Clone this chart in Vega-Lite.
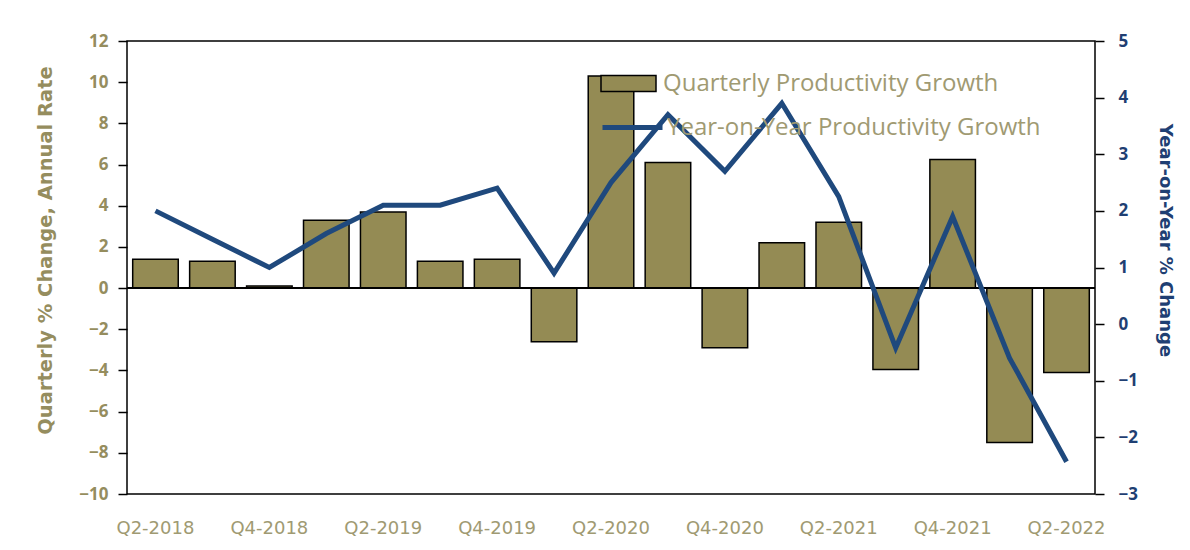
{
  "$schema": "https://vega.github.io/schema/vega-lite/v6.json",
  "width": 968,
  "height": 453,
  "autosize": {"type": "none"},
  "padding": {"left": 127, "top": 41, "right": 95, "bottom": 56},
  "background": "white",
  "config": {
    "font": "Open Sans",
    "view": {"stroke": "black", "strokeWidth": 1.5},
    "axis": {"grid": false}
  },
  "data": {
    "values": [
      {"q": "Q2-2018", "prod": 1.4, "yoy": 2.0},
      {"q": "Q3-2018", "prod": 1.3, "yoy": 1.5},
      {"q": "Q4-2018", "prod": 0.1, "yoy": 1.0},
      {"q": "Q1-2019", "prod": 3.3, "yoy": 1.6},
      {"q": "Q2-2019", "prod": 3.7, "yoy": 2.1},
      {"q": "Q3-2019", "prod": 1.3, "yoy": 2.1},
      {"q": "Q4-2019", "prod": 1.4, "yoy": 2.4},
      {"q": "Q1-2020", "prod": -2.6, "yoy": 0.9},
      {"q": "Q2-2020", "prod": 10.3, "yoy": 2.5},
      {"q": "Q3-2020", "prod": 6.1, "yoy": 3.7},
      {"q": "Q4-2020", "prod": -2.9, "yoy": 2.7},
      {"q": "Q1-2021", "prod": 2.2, "yoy": 3.9},
      {"q": "Q2-2021", "prod": 3.2, "yoy": 2.25},
      {"q": "Q3-2021", "prod": -3.95, "yoy": -0.42},
      {"q": "Q4-2021", "prod": 6.25, "yoy": 1.9},
      {"q": "Q1-2022", "prod": -7.5, "yoy": -0.6},
      {"q": "Q2-2022", "prod": -4.1, "yoy": -2.43}
    ]
  },
  "encoding": {
    "x": {
      "field": "q",
      "type": "nominal",
      "sort": null,
      "scale": {"paddingInner": 0.2, "paddingOuter": 0.1},
      "axis": {
        "title": null,
        "labelAngle": 0,
        "domain": false,
        "ticks": false,
        "labelPadding": 25,
        "labelFont": "DejaVu Sans",
        "labelFontSize": 18,
        "labelColor": "#a09a72",
        "labelExpr": "(indexof(datum.label,'Q2')==0 || indexof(datum.label,'Q4')==0) ? datum.label : ''"
      }
    }
  },
  "layer": [
    {
      "layer": [
        {
          "mark": {"type": "bar", "stroke": "black", "strokeWidth": 1.5},
          "encoding": {
            "y": {
              "field": "prod",
              "type": "quantitative",
              "scale": {"domain": [-10, 12], "nice": false},
              "axis": {
                "title": "Quarterly % Change, Annual Rate",
                "values": [-10, -8, -6, -4, -2, 0, 2, 4, 6, 8, 10, 12],
                "domain": false,
                "tickColor": "black",
                "tickWidth": 1.5,
                "tickSize": 9,
                "labelPadding": 10,
                "labelFontSize": 17,
                "labelFontWeight": "bold",
                "labelColor": "#958d5e",
                "titleFont": "DejaVu Sans",
                "titleFontSize": 19.5,
                "titleFontWeight": "bold",
                "titleColor": "#958d5e",
                "titlePadding": 23,
                "titleY": 209
              }
            },
            "fill": {
              "datum": "Quarterly Productivity Growth",
              "type": "nominal",
              "scale": {"range": ["#948b54"]},
              "legend": {
                "title": null,
                "orient": "none",
                "legendX": 473,
                "legendY": 14,
                "padding": 0,
                "symbolType": "M-1,-0.29H1V0.29H-1Z",
                "symbolSize": 3025,
                "symbolStrokeColor": "black",
                "symbolStrokeWidth": 1.5,
                "symbolOpacity": 1,
                "labelFontSize": 24,
                "labelColor": "#a09a72",
                "labelOffset": 6,
                "labelLimit": 600
              }
            }
          }
        },
        {
          "mark": {"type": "rule", "color": "black", "strokeWidth": 1.5},
          "encoding": {"y": {"datum": 0}, "x": {"value": 0}, "x2": {"value": 968}}
        }
      ]
    },
    {
      "mark": {"type": "line", "strokeWidth": 5},
      "encoding": {
        "y": {
          "field": "yoy",
          "type": "quantitative",
          "scale": {"domain": [-3, 5], "nice": false},
          "axis": {
            "orient": "right",
            "title": "Year-on-Year % Change",
            "titleAngle": 90,
            "values": [-3, -2, -1, 0, 1, 2, 3, 4, 5],
            "domain": false,
            "tickColor": "black",
            "tickWidth": 1.5,
            "tickSize": 9,
            "labelPadding": 14,
            "labelFontSize": 17,
            "labelFontWeight": "bold",
            "labelColor": "#1f3f73",
            "titleFont": "DejaVu Sans",
            "titleFontSize": 18,
            "titleFontWeight": "bold",
            "titleColor": "#1f3f73",
            "titlePadding": 18,
            "titleY": 199
          }
        },
        "stroke": {
          "datum": "Year-on-Year Productivity Growth",
          "type": "nominal",
          "scale": {"range": ["#1f497d"]},
          "legend": {
            "title": null,
            "orient": "none",
            "legendX": 473,
            "legendY": 54,
            "padding": 0,
            "symbolType": "stroke",
            "symbolSize": 3600,
            "symbolStrokeWidth": 5,
            "labelFontSize": 24,
            "labelColor": "#a09a72",
            "labelOffset": 2,
            "labelLimit": 600
          }
        }
      }
    }
  ],
  "resolve": {"scale": {"y": "independent"}}
}
